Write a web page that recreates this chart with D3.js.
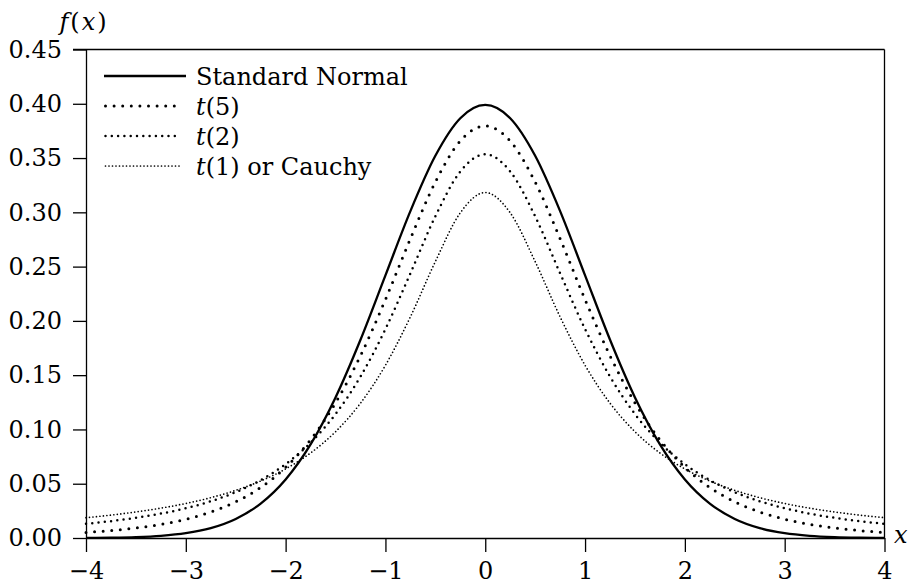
<!DOCTYPE html>
<html>
<head>
<meta charset="utf-8">
<script src="https://cdn.jsdelivr.net/npm/d3@7"></script>
<style>
  html, body { margin: 0; padding: 0; background: #fff; }
  svg { display: block; }
  text { font-family: "DejaVu Serif", serif; fill: #000; }
</style>
</head>
<body>
<svg id="chart" width="908" height="584"></svg>
<script>
const xValues = [-4,-3.75,-3.5,-3.25,-3,-2.75,-2.5,-2.25,-2,-1.75,-1.5,-1.25,-1,-0.75,-0.5,-0.25,0,
                 0.25,0.5,0.75,1,1.25,1.5,1.75,2,2.25,2.5,2.75,3,3.25,3.5,3.75,4];
const normalValues = [0.00013,0.00035,0.00087,0.00203,0.00443,0.00909,0.01753,0.03174,0.05399,0.08628,0.12952,0.18265,0.24197,0.30114,0.35207,0.38667,0.39894,
                      0.38667,0.35207,0.30114,0.24197,0.18265,0.12952,0.08628,0.05399,0.03174,0.01753,0.00909,0.00443,0.00203,0.00087,0.00035,0.00013];
const t5Values = [0.00512,0.00685,0.00924,0.01259,0.01729,0.02393,0.03333,0.04657,0.06509,0.09054,0.12452,0.16789,0.21968,0.27570,0.32792,0.36572,0.37961,
                  0.36572,0.32792,0.27570,0.21968,0.16789,0.12452,0.09054,0.06509,0.04657,0.03333,0.02393,0.01729,0.01259,0.00924,0.00685,0.00512];
const t2Values = [0.01309,0.01553,0.01859,0.02246,0.02741,0.03382,0.04220,0.05328,0.06804,0.08779,0.11413,0.14872,0.19245,0.24378,0.29630,0.33761,0.35355,
                  0.33761,0.29630,0.24378,0.19245,0.14872,0.11413,0.08779,0.06804,0.05328,0.04220,0.03382,0.02741,0.02246,0.01859,0.01553,0.01309];
const cauchyValues = [0.01872,0.02113,0.02402,0.02753,0.03183,0.03718,0.04390,0.05251,0.06366,0.07835,0.09794,0.12422,0.15915,0.20372,0.25465,0.29959,0.31831,
                      0.29959,0.25465,0.20372,0.15915,0.12422,0.09794,0.07835,0.06366,0.05251,0.04390,0.03718,0.03183,0.02753,0.02402,0.02113,0.01872];
const xTicks = [-4,-3,-2,-1,0,1,2,3,4];
const yTicks = [0,0.05,0.10,0.15,0.20,0.25,0.30,0.35,0.40,0.45];
const seriesNames = ["Standard Normal", "t(5)", "t(2)", "t(1) or Cauchy"];

const FONT = '"DejaVu Serif", serif';
const FS = "24px";
const svg = d3.select("#chart");
const x = d3.scaleLinear().domain([-4, 4]).range([86, 884.5]);
const y = d3.scaleLinear().domain([0, 0.45]).range([538, 49.5]);

const styles = [
  { width: 2.3, dash: null, cap: "butt" },
  { width: 3.0, dash: "0 8.6", cap: "round" },
  { width: 2.5, dash: "0 6.3", cap: "round" },
  { width: 1.7, dash: "0 3.5", cap: "round" }
];
const seriesData = [normalValues, t5Values, t2Values, cauchyValues];

// Axes
const fmt = d => d.toFixed(2);
const yAxis = d3.axisLeft(y).tickValues(yTicks).tickFormat(fmt).tickSize(13).tickSizeOuter(0).tickPadding(11);
const xAxis = d3.axisBottom(x).tickValues(xTicks).tickFormat(d => d < 0 ? "\u2212" + Math.abs(d) : String(d)).tickSize(14).tickSizeOuter(0).tickPadding(10);

const gy = svg.append("g").attr("transform", `translate(${x(-4)},0)`).call(yAxis);
const gx = svg.append("g").attr("transform", `translate(0,${y(0)})`).call(xAxis);
[gx, gy].forEach(g => {
  g.attr("font-family", null);
  g.selectAll("path.domain").attr("stroke", "#000").attr("stroke-width", 1.3);
  g.selectAll(".tick line").attr("stroke", "#000").attr("stroke-width", 1.3);
  g.selectAll(".tick text").attr("fill", "#000")
    .style("font-family", FONT).style("font-size", FS);
});

// Top and right frame lines
svg.append("line").attr("x1", x(-4) - 13).attr("x2", x(4)).attr("y1", y(0.45)).attr("y2", y(0.45))
  .attr("stroke", "#000").attr("stroke-width", 1.3);
svg.append("line").attr("x1", x(4)).attr("x2", x(4)).attr("y1", y(0.45)).attr("y2", y(0))
  .attr("stroke", "#000").attr("stroke-width", 1.3);

// Curves
const line = d3.line().x((d, i) => x(xValues[i])).y(d => y(d)).curve(d3.curveMonotoneX);
seriesData.forEach((vals, k) => {
  const s = styles[k];
  const p = svg.append("path").attr("d", line(vals)).attr("fill", "none")
    .attr("stroke", "#000").attr("stroke-width", s.width).attr("stroke-linecap", s.cap)
    .attr("stroke-linejoin", "round");
  if (s.dash) p.attr("stroke-dasharray", s.dash);
});

// Axis titles
const fx = svg.append("text").attr("x", 84).attr("y", 30).attr("text-anchor", "middle")
  .style("font-family", FONT).style("font-size", FS).style("letter-spacing", "2px");
fx.append("tspan").style("font-style", "italic").text("f");
fx.append("tspan").text("(");
fx.append("tspan").style("font-style", "italic").text("x");
fx.append("tspan").text(")");
svg.append("text").attr("x", 894).attr("y", 543).style("font-family", FONT).style("font-size", FS).style("font-style", "italic").text("x");

// Legend
const legendRows = [76, 106, 136, 166];
seriesNames.forEach((name, k) => {
  const s = styles[k];
  const ly = legendRows[k];
  const l = svg.append("line").attr("x1", k === 0 ? 104 : 105.5).attr("x2", k === 0 ? 186 : 180).attr("y1", ly).attr("y2", ly)
    .attr("stroke", "#000").attr("stroke-width", s.width).attr("stroke-linecap", s.cap);
  if (s.dash) l.attr("stroke-dasharray", s.dash);
  const t = svg.append("text").attr("x", 196).attr("y", ly + 8.5).style("font-family", FONT).style("font-size", FS);
  const m = name.match(/^t(\(.*)$/);
  if (m) {
    t.append("tspan").style("font-style", "italic").text("t");
    t.append("tspan").text(m[1]);
  } else {
    t.text(name);
  }
});
</script>
</body>
</html>
